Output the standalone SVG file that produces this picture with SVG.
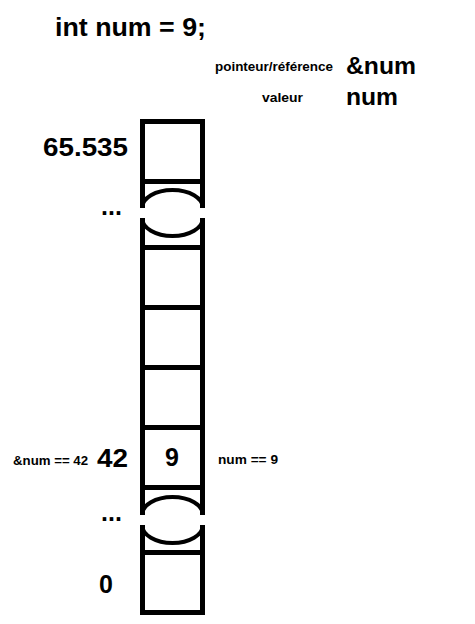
<svg xmlns="http://www.w3.org/2000/svg" width="475" height="624" viewBox="0 0 475 624">
<style>
text{font-family:"Liberation Sans",Arial,sans-serif;font-weight:bold;fill:#000}
.big{font-size:25px}
.mid{font-size:24px}
.small{font-size:12px}
.bar{fill:#000}
.arc{fill:none;stroke:#000;stroke-width:4}
</style>
<rect width="475" height="624" fill="#fff"/>
<g id="title">
<text class="big" x="55" y="36" textLength="151" lengthAdjust="spacingAndGlyphs">int num = 9;</text>
</g>
<g id="legend">
<text class="small" x="215" y="71" textLength="118" lengthAdjust="spacingAndGlyphs">pointeur/référence</text>
<text class="mid" x="346" y="74" textLength="70" lengthAdjust="spacingAndGlyphs">&amp;num</text>
<text class="small" x="262" y="102" textLength="41" lengthAdjust="spacingAndGlyphs">valeur</text>
<text class="mid" x="346" y="105" textLength="52" lengthAdjust="spacingAndGlyphs">num</text>
</g>
<g id="memory-column">
<rect class="bar" x="140" y="119" width="5" height="89"/>
<rect class="bar" x="140" y="218" width="5" height="297"/>
<rect class="bar" x="140" y="525" width="5" height="90"/>
<rect class="bar" x="200" y="119" width="5" height="89"/>
<rect class="bar" x="200" y="218" width="5" height="297"/>
<rect class="bar" x="200" y="525" width="5" height="90"/>
<rect class="bar" x="140" y="119" width="65" height="5"/>
<rect class="bar" x="140" y="179" width="65" height="5"/>
<rect class="bar" x="140" y="245" width="65" height="5"/>
<rect class="bar" x="140" y="305" width="65" height="5"/>
<rect class="bar" x="140" y="365" width="65" height="5"/>
<rect class="bar" x="140" y="425" width="65" height="5"/>
<rect class="bar" x="140" y="485" width="65" height="5"/>
<rect class="bar" x="140" y="550" width="65" height="5"/>
<rect class="bar" x="140" y="610" width="65" height="5"/>
<path class="arc" d="M142 208 A30.5 18 0 0 1 203 208"/>
<path class="arc" d="M142 218 A30.5 18 0 0 0 203 218"/>
<path class="arc" d="M142 515 A30.5 18 0 0 1 203 515"/>
<path class="arc" d="M142 525 A30.5 18 0 0 0 203 525"/>
</g>
<g id="cell-top">
<text class="big" x="43" y="156" textLength="85" lengthAdjust="spacingAndGlyphs">65.535</text>
<text class="big" x="101" y="215">...</text>
</g>
<g id="cell-42">
<text class="small" x="13" y="465" textLength="75" lengthAdjust="spacingAndGlyphs">&amp;num == 42</text>
<text class="big" x="97" y="467" textLength="31" lengthAdjust="spacingAndGlyphs">42</text>
<text class="big" x="172" y="466" text-anchor="middle">9</text>
<text class="small" x="218" y="464" textLength="60" lengthAdjust="spacingAndGlyphs">num == 9</text>
</g>
<g id="cell-bottom">
<text class="big" x="101" y="521">...</text>
<text class="big" x="99" y="593">0</text>
</g>
</svg>
